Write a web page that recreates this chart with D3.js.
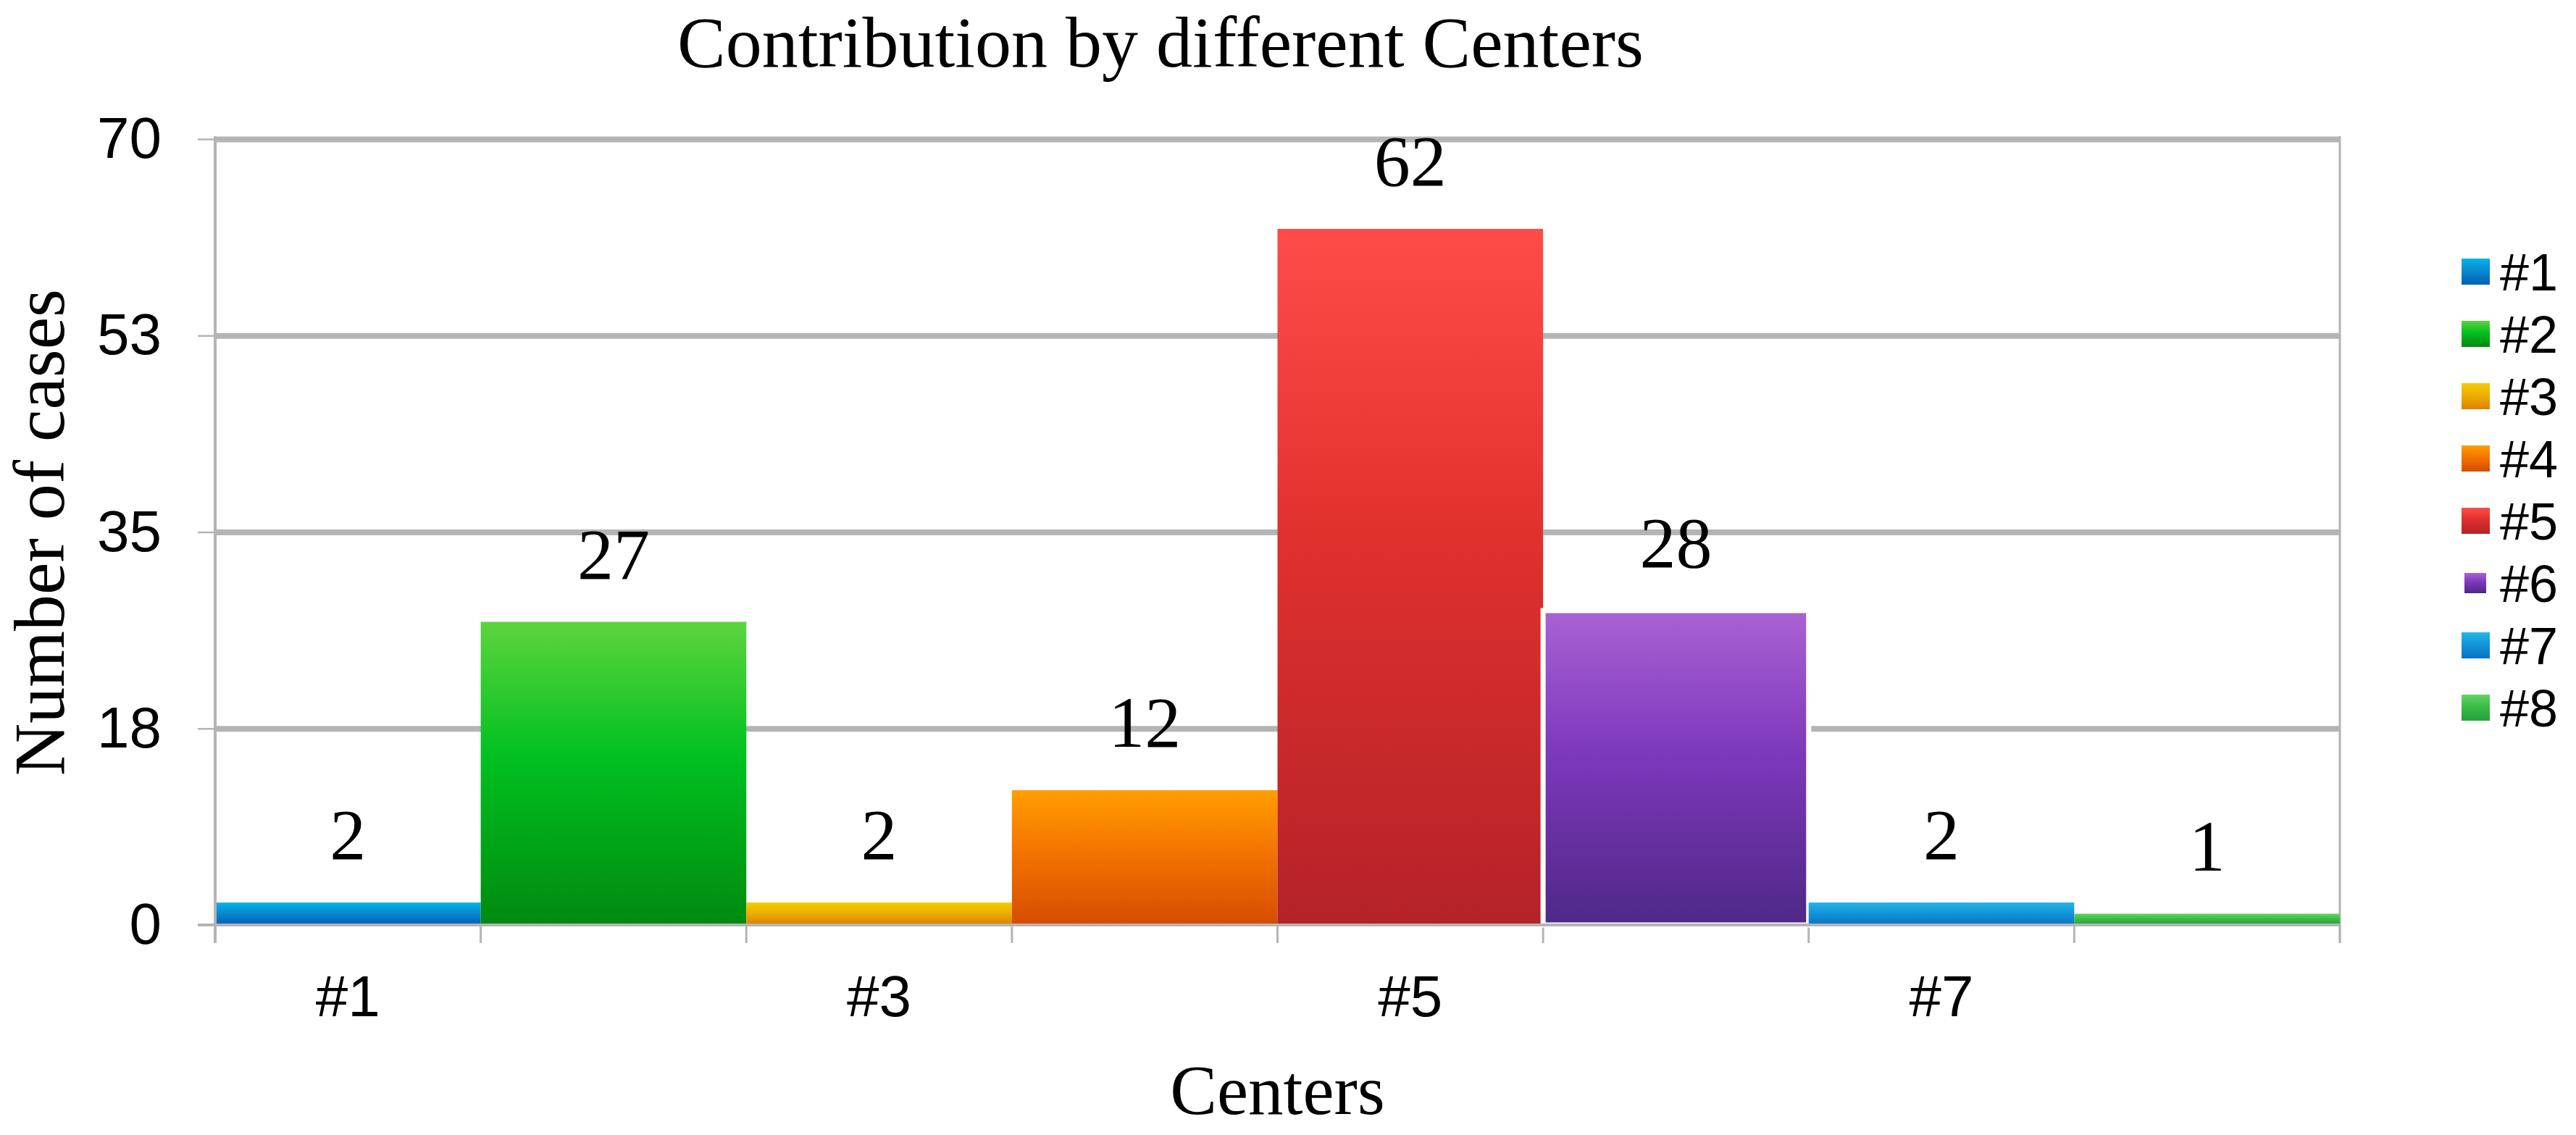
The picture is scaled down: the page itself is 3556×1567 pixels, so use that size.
<!DOCTYPE html>
<html>
<head>
<meta charset="utf-8">
<script src="https://cdn.jsdelivr.net/npm/d3@7"></script>
<style>
  body { margin: 0; background: #fff; }
  svg { display: block; }
</style>
</head>
<body>
<script>
// data
const centers = ["#1", "#2", "#3", "#4", "#5", "#6", "#7", "#8"]
const cases = [2, 27, 2, 12, 62, 28, 2, 1]
const yTicks = [0, 17.5, 35, 52.5, 70]
const yTickLabels = ["0", "18", "35", "53", "70"]
const xLabelShown = ["#1", "#3", "#5", "#7"]

// bar gradients, top -> bottom
const palette = [
  ["#00b6e6", "#0a8ad0", "#0060b6"],
  ["#5dd43e", "#00c020", "#008a10"],
  ["#f3cc00", "#eeb000", "#de8000"],
  ["#ff9e00", "#f47400", "#d64c00"],
  ["#ff4c49", "#e0302e", "#b42228"],
  ["#aa62d4", "#7e38bc", "#4e2886"],
  ["#24b6e8", "#1496da", "#0a72c2"],
  ["#60d660", "#3cbc48", "#26a03a"]
]

const w = 3556, h = 1567
const plotL = 297, plotR = 3230, plotT = 192, plotB = 1277

const svg = d3.select("body").append("svg")
  .attr("width", w)
  .attr("height", h)

const defs = svg.append("defs")
palette.forEach((c, i) => {
  const g = defs.append("linearGradient")
    .attr("id", "grad" + i)
    .attr("x1", 0).attr("y1", 0).attr("x2", 0).attr("y2", 1)
  g.append("stop").attr("offset", "0%").attr("stop-color", c[0])
  g.append("stop").attr("offset", "45%").attr("stop-color", c[1])
  g.append("stop").attr("offset", "100%").attr("stop-color", c[2])
})

const x = d3.scaleBand().domain(centers).range([plotL, plotR]).padding(0)
const y = d3.scaleLinear().domain([0, 70]).range([plotB, plotT])

// gridlines
svg.append("g")
  .attr("transform", `translate(${plotL},0)`)
  .call(d3.axisLeft(y).tickValues(yTicks.filter(d => d > 0)).tickSize(-(plotR - plotL)).tickFormat(""))
  .call(g => g.select(".domain").remove())
  .call(g => g.selectAll("line").attr("stroke", "#b4b4b4").attr("stroke-width", 8))

// right border
svg.append("line")
  .attr("x1", plotR).attr("x2", plotR)
  .attr("y1", plotT - 4).attr("y2", plotB + 25)
  .attr("stroke", "#b4b4b4").attr("stroke-width", 3)

// category boundary ticks
const bounds = centers.map(c => x(c)).concat([plotR])
svg.append("g").selectAll("line")
  .data(bounds).enter().append("line")
  .attr("x1", d => d).attr("x2", d => d)
  .attr("y1", plotB).attr("y2", plotB + 25)
  .attr("stroke", "#b4b4b4").attr("stroke-width", 3)

// bars
svg.append("g").selectAll("rect")
  .data(cases).enter().append("rect")
  .attr("x", (d, i) => x(centers[i]))
  .attr("y", d => y(d))
  .attr("width", x.bandwidth())
  .attr("height", d => plotB - y(d))
  .attr("fill", (d, i) => `url(#grad${i})`)
  .attr("stroke", (d, i) => centers[i] === "#6" ? "#fff" : "none")
  .attr("stroke-width", 7)

// baseline
svg.append("line")
  .attr("x1", plotL - 24).attr("x2", plotR)
  .attr("y1", plotB).attr("y2", plotB)
  .attr("stroke", "#b4b4b4").attr("stroke-width", 4)

// y axis
svg.append("g")
  .attr("transform", `translate(${plotL},0)`)
  .call(d3.axisLeft(y).tickValues(yTicks).tickFormat((d, i) => yTickLabels[i]).tickSize(24).tickPadding(50))
  .call(g => g.select(".domain").attr("d", `M0,${plotT - 4}V${plotB + 25}`).attr("stroke", "#b4b4b4").attr("stroke-width", 4))
  .call(g => g.selectAll(".tick line").attr("stroke", "#b4b4b4").attr("stroke-width", 2.5))
  .call(g => g.selectAll("text")
    .attr("font-family", "'Liberation Sans', Arial, sans-serif")
    .attr("font-size", 80)
    .attr("fill", "#000"))

// x tick labels
svg.append("g").selectAll("text")
  .data(xLabelShown).enter().append("text")
  .attr("x", d => x(d) + x.bandwidth() / 2)
  .attr("y", 1403)
  .attr("text-anchor", "middle")
  .attr("font-family", "'Liberation Sans', Arial, sans-serif")
  .attr("font-size", 80)
  .text(d => d)

// value labels
svg.append("g").selectAll("text")
  .data(cases).enter().append("text")
  .attr("x", (d, i) => x(centers[i]) + x.bandwidth() / 2)
  .attr("y", d => y(d) - 60)
  .attr("text-anchor", "middle")
  .attr("font-family", "'Liberation Serif', 'Times New Roman', serif")
  .attr("font-size", 100)
  .text(d => d)

// title and axis titles
svg.append("text")
  .attr("x", 1602).attr("y", 92)
  .attr("text-anchor", "middle")
  .attr("font-family", "'Liberation Serif', 'Times New Roman', serif")
  .attr("font-size", 100)
  .text("Contribution by different Centers")

svg.append("text")
  .attr("x", (plotL + plotR) / 2).attr("y", 1538)
  .attr("text-anchor", "middle")
  .attr("font-family", "'Liberation Serif', 'Times New Roman', serif")
  .attr("font-size", 97)
  .text("Centers")

svg.append("text")
  .attr("transform", "translate(88,735) rotate(-90)")
  .attr("text-anchor", "middle")
  .attr("font-family", "'Liberation Serif', 'Times New Roman', serif")
  .attr("font-size", 100)
  .text("Number of cases")

// legend
const legend = svg.append("g").selectAll("g")
  .data(centers).enter().append("g")
  .attr("transform", (d, i) => `translate(3398,${375 + i * 86})`)

legend.append("rect")
  .attr("x", (d, i) => centers[i] === "#6" ? 4 : 0)
  .attr("y", (d, i) => centers[i] === "#6" ? -14 : -18)
  .attr("width", (d, i) => centers[i] === "#6" ? 30 : 39)
  .attr("height", (d, i) => centers[i] === "#6" ? 28 : 36)
  .attr("fill", (d, i) => `url(#grad${i})`)

legend.append("text")
  .attr("x", 53)
  .attr("y", 26)
  .attr("font-family", "'Liberation Sans', Arial, sans-serif")
  .attr("font-size", 72)
  .text(d => d)
</script>
</body>
</html>
